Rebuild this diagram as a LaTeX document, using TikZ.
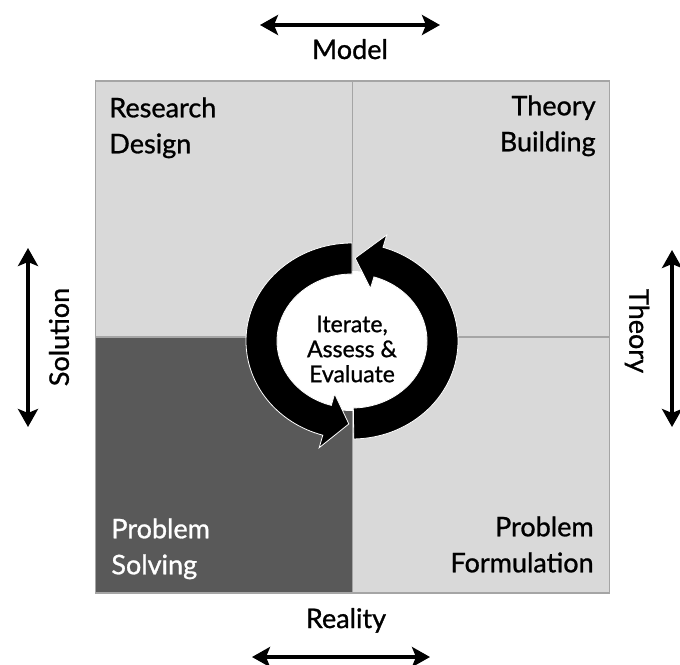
\documentclass[tikz,border=0pt]{standalone}
\usepackage{fontspec}
\setmainfont{Lato}[FakeBold=1]
\usetikzlibrary{arrows.meta}
\definecolor{qlight}{RGB}{217,217,217}
\definecolor{qdark}{RGB}{89,89,89}
\definecolor{qedge}{RGB}{165,165,165}
\tikzstyle{axis} = [line width=2.2pt, {Stealth[length=9pt,width=10pt,inset=2pt]}-{Stealth[length=9pt,width=10pt,inset=2pt]}]

\begin{document}
\begin{tikzpicture}[x=0.5pt, y=-0.5pt,
    quad/.style={rectangle, draw=qedge, line width=0.6pt, fill=qlight, minimum width=128.5pt, minimum height=128pt, inner sep=0pt},
    qtext/.style={inner sep=0pt, font=\fontsize{13.5}{18}\selectfont},
    axtext/.style={inner sep=0pt, font=\fontsize{13.5}{16}\selectfont},
    ring/.style={fill=black, draw=white, line width=0.4pt}]

\useasboundingbox (0,0) rectangle (680,664);

% Quadrants
\node[quad] (design) at (224,209) {};
\node[quad] (building) at (481,209) {};
\node[quad, fill=qdark] (solving) at (224,465) {};
\node[quad] (formulation) at (481,465) {};

% Quadrant labels
\node[qtext, align=left, anchor=north west] (designtxt) at (109,97) {Research\\Design};
\node[qtext, align=right, anchor=north east] (buildingtxt) at (596,95) {Theory\\Building};
\node[qtext, align=left, anchor=north west, text=white] (solvingtxt) at (111,518) {Problem\\Solving};
\node[qtext, align=right, anchor=north east] (formulationtxt) at (594,516) {Problem\\Formulation};

% Cycle in the middle
\begin{scope}[shift={(352,341)}, yscale=-1]
\fill[white] (0,0) ellipse [x radius=77, y radius=70];
\path[ring] (-89:106 and 98) arc[start angle=-89, end angle=73, x radius=106, y radius=98]
    -- (73:119 and 111) -- (88:91 and 83) -- (73:63 and 55) -- (73:75 and 67)
    arc[start angle=73, end angle=-89, x radius=75, y radius=67] -- cycle;
\path[ring] (90:106 and 98) arc[start angle=90, end angle=254, x radius=106, y radius=98]
    -- (254:119 and 111) -- (268:91 and 83) -- (254:63 and 55) -- (254:75 and 67)
    arc[start angle=254, end angle=90, x radius=75, y radius=67] -- cycle;
\end{scope}
\node[align=center, inner sep=0pt, font=\fontsize{11.5}{12.5}\selectfont] (iterate) at (352,349) {Iterate,\\Assess \&\\Evaluate};

% Axes
\node[axtext, anchor=base] (model) at (350,59) {Model};
\node[axtext, anchor=base] (reality) at (346,628) {Reality};
\node[axtext, rotate=90] (solution) at (59,337) {Solution};
\node[axtext, rotate=-90] (theory) at (637,331) {Theory};

\coordinate (m1) at (260,25);
\coordinate (m2) at (440,25);
\coordinate (r1) at (252,657);
\coordinate (r2) at (430,657);
\coordinate (s1) at (28,248);
\coordinate (s2) at (28,427);
\coordinate (t1) at (672,250);
\coordinate (t2) at (672,427);

\draw[axis] (m1) -- (m2);
\draw[axis] (r1) -- (r2);
\draw[axis] (s1) -- (s2);
\draw[axis] (t1) -- (t2);

\end{tikzpicture}
\end{document}
